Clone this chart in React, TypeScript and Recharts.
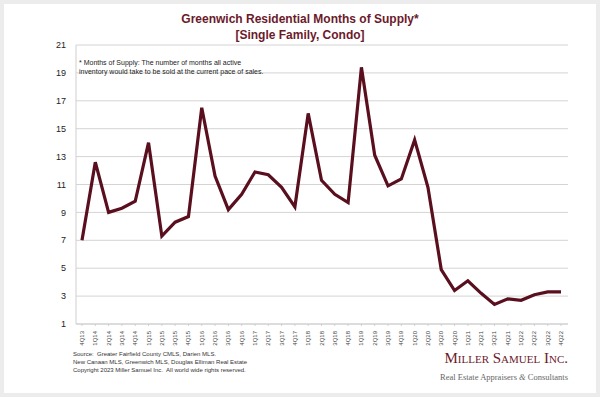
import React from "react";
import { LineChart, Line, XAxis, YAxis, CartesianGrid } from "recharts";

const quarters = [
  "4Q13",
  "1Q14", "2Q14", "3Q14", "4Q14",
  "1Q15", "2Q15", "3Q15", "4Q15",
  "1Q16", "2Q16", "3Q16", "4Q16",
  "1Q17", "2Q17", "3Q17", "4Q17",
  "1Q18", "2Q18", "3Q18", "4Q18",
  "1Q19", "2Q19", "3Q19", "4Q19",
  "1Q20", "2Q20", "3Q20", "4Q20",
  "1Q21", "2Q21", "3Q21", "4Q21",
  "1Q22", "2Q22", "3Q22", "4Q22",
];

const monthsOfSupply = [
  7.0,
  12.6, 9.0, 9.3, 9.8,
  14.0, 7.3, 8.3, 8.7,
  16.5, 11.6, 9.2, 10.3,
  11.9, 11.7, 10.8, 9.4,
  16.1, 11.3, 10.3, 9.7,
  19.4, 13.1, 10.9, 11.4,
  14.2, 10.8, 4.9, 3.4,
  4.1, 3.2, 2.4, 2.8,
  2.7, 3.1, 3.3, 3.3,
];

const yTicks = [1, 3, 5, 7, 9, 11, 13, 15, 17, 19, 21];

const data = quarters.map((q, i) => ({ q, v: monthsOfSupply[i] }));

const MAROON = "#5a0f1e";
const TITLE = "#6b1a2b";

const XTick = (props: any) => {
  const { x, y, payload } = props;
  return (
    <text
      x={0}
      y={0}
      transform={`translate(${x + 2},${y + 3}) rotate(-90)`}
      textAnchor="end"
      fontSize={6}
      fill="#444"
      fontFamily="Liberation Sans, Arial, sans-serif"
    >
      {payload.value}
    </text>
  );
};

export default function App() {
  return (
    <div
      style={{
        position: "absolute",
        left: 0,
        top: 0,
        width: 600,
        height: 397,
        background: "#ececec",
        fontFamily: "Liberation Sans, Arial, sans-serif",
      }}
    >
      <div
        style={{
          position: "absolute",
          left: 4,
          top: 4,
          width: 592,
          height: 389,
          background: "#ffffff",
        }}
      />
      <div style={{ position: "absolute", left: 0, top: 0 }}>
        <LineChart
          width={600}
          height={397}
          data={data}
          margin={{ top: 45, right: 32, left: 36, bottom: 43 }}
        >
          <text
            x={300}
            y={23}
            textAnchor="middle"
            fontSize={12}
            fontWeight="bold"
            fill={TITLE}
            fontFamily="Liberation Sans, Arial, sans-serif"
          >
            Greenwich Residential Months of Supply*
          </text>
          <text
            x={300}
            y={39}
            textAnchor="middle"
            fontSize={12}
            fontWeight="bold"
            fill={TITLE}
            fontFamily="Liberation Sans, Arial, sans-serif"
          >
            [Single Family, Condo]
          </text>
          <text x={79} y={65} fontSize={7} fill="#222" fontFamily="Liberation Sans, Arial, sans-serif">
            * Months of Supply: The number of months all active
          </text>
          <text x={79} y={73.5} fontSize={7} fill="#222" fontFamily="Liberation Sans, Arial, sans-serif">
            inventory would take to be sold at the current pace of sales.
          </text>
          <CartesianGrid vertical={false} stroke="#d4d4d4" strokeWidth={1} />
          <XAxis
            dataKey="q"
            interval={0}
            height={30}
            padding={{ left: 6, right: 7 }}
            tick={<XTick />}
            axisLine={{ stroke: "#cfcfcf" }}
            tickLine={{ stroke: "#cfcfcf" }}
            tickSize={2}
          />
          <YAxis
            domain={[1, 21]}
            ticks={yTicks}
            width={40}
            axisLine={{ stroke: "#cfcfcf" }}
            tickLine={false}
            tickSize={8}
            tick={{ fontSize: 9, fill: "#222", fontFamily: "Liberation Sans, Arial, sans-serif" }}
          />
          <Line
            type="linear"
            dataKey="v"
            stroke={MAROON}
            strokeWidth={3.2}
            dot={false}
            isAnimationActive={false}
            strokeLinejoin="miter"
          />
        </LineChart>
      </div>
      <div
        style={{
          position: "absolute",
          left: 73,
          top: 350,
          fontSize: 6,
          lineHeight: "8px",
          color: "#333",
          whiteSpace: "nowrap",
        }}
      >
        <div>Source:&nbsp; Greater Fairfield County CMLS, Darien MLS.</div>
        <div>New Canaan MLS, Greenwich MLS, Douglas Elliman Real Estate</div>
        <div>Copyright 2023 Miller Samuel Inc.&nbsp; All world wide rights reserved.</div>
      </div>
      <div
        style={{
          position: "absolute",
          right: 32,
          top: 348,
          textAlign: "right",
          fontFamily: "Liberation Serif, 'DejaVu Serif', serif",
          whiteSpace: "nowrap",
        }}
      >
        <div style={{ fontSize: 15, color: "#6b1a2b", fontVariant: "small-caps", lineHeight: "20px" }}>
          Miller Samuel Inc.
        </div>
        <div style={{ fontSize: 8.5, color: "#666", lineHeight: "12px", marginTop: 3 }}>
          Real Estate Appraisers <i>&amp;</i> Consultants
        </div>
      </div>
    </div>
  );
}
